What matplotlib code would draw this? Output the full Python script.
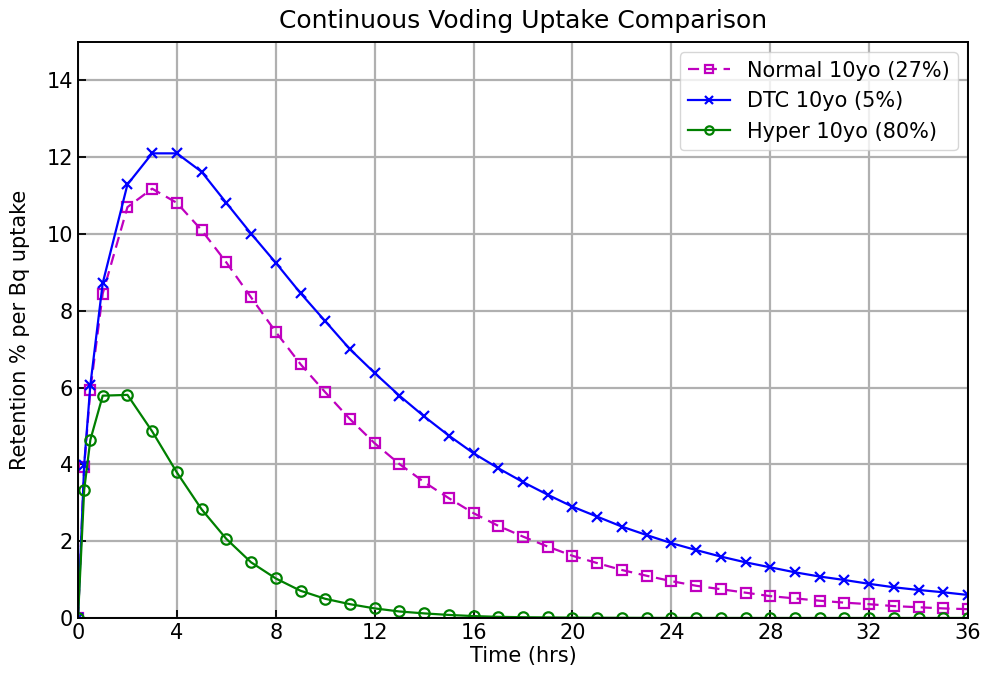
import numpy as np
import matplotlib.pyplot as plt

# time points (hrs)
t = [0, 0.25, 0.5, 1, 2, 3, 4, 5, 6, 7, 8, 9, 10, 11, 12, 13, 14, 15, 16, 17, 18,
     19, 20, 21, 22, 23, 24, 25, 26, 27, 28, 29, 30, 31, 32, 33, 34, 35, 36]

normal = [0, 3.94, 5.94, 8.45, 10.70, 11.18, 10.81, 10.10, 9.26, 8.35, 7.45, 6.61,
          5.88, 5.18, 4.55, 4.01, 3.54, 3.12, 2.73, 2.40, 2.12, 1.86, 1.62, 1.43,
          1.25, 1.10, 0.96, 0.84, 0.75, 0.66, 0.57, 0.51, 0.45, 0.40, 0.36, 0.31,
          0.28, 0.25, 0.23]

dtc = [0, 3.99, 6.07, 8.72, 11.29, 12.10, 12.10, 11.62, 10.81, 10.01, 9.25, 8.46,
       7.73, 7.00, 6.38, 5.79, 5.25, 4.75, 4.29, 3.90, 3.54, 3.21, 2.90, 2.64,
       2.38, 2.16, 1.95, 1.77, 1.60, 1.45, 1.32, 1.19, 1.08, 0.99, 0.89, 0.80,
       0.73, 0.67, 0.60]

hyper = [0, 3.34, 4.64, 5.79, 5.81, 4.86, 3.79, 2.83, 2.06, 1.45, 1.03, 0.71,
         0.50, 0.36, 0.25, 0.17, 0.12, 0.08, 0.05, 0.03, 0.02, 0.015, 0.01, 0.007,
         0.005, 0.003, 0.002, 0.0015, 0.001, 0.0007, 0.0005, 0.0003, 0.0002,
         0.0002, 0.0001, 0.0001, 0.0001, 0.0, 0.0]

labels = ["Normal 10yo (27%)", "DTC 10yo (5%)", "Hyper 10yo (80%)"]

plt.rcParams['font.family'] = 'DejaVu Sans'
fig = plt.figure(figsize=(9.81, 6.79), dpi=100)
ax = fig.add_axes([78/981, 1 - 618/679, 890/981, 576/679])

ax.plot(t, normal, color='m', ls=(0, (5, 3)), marker='s', mfc='none', ms=7.5, mew=1.6, lw=1.6, label=labels[0])
ax.plot(t, dtc, color='b', ls='-', marker='x', ms=7.5, mew=1.6, lw=1.6, label=labels[1])
ax.plot(t, hyper, color='g', ls='-', marker='o', mfc='none', ms=7.5, mew=1.6, lw=1.6, label=labels[2])

ax.set_xlim(0, 36)
ax.set_ylim(0, 15)
ax.set_xticks(np.arange(0, 37, 4))
ax.set_yticks(np.arange(0, 15, 2))
ax.grid(True, color='#b0b0b0', lw=1.6)
ax.set_axisbelow(True)
ax.tick_params(direction='in', labelsize=15, width=1.3, length=6)
for s in ax.spines.values():
    s.set_linewidth(1.4)

ax.set_xlabel("Time (hrs)", fontsize=15, labelpad=2)
ax.set_ylabel("Retention % per Bq uptake", fontsize=15, labelpad=12)
ax.set_title("Continuous Voding Uptake Comparison", fontsize=18, pad=10)
ax.legend(loc='upper right', fontsize=15, markerscale=0.8)

fig.savefig("out.png", dpi=100)
